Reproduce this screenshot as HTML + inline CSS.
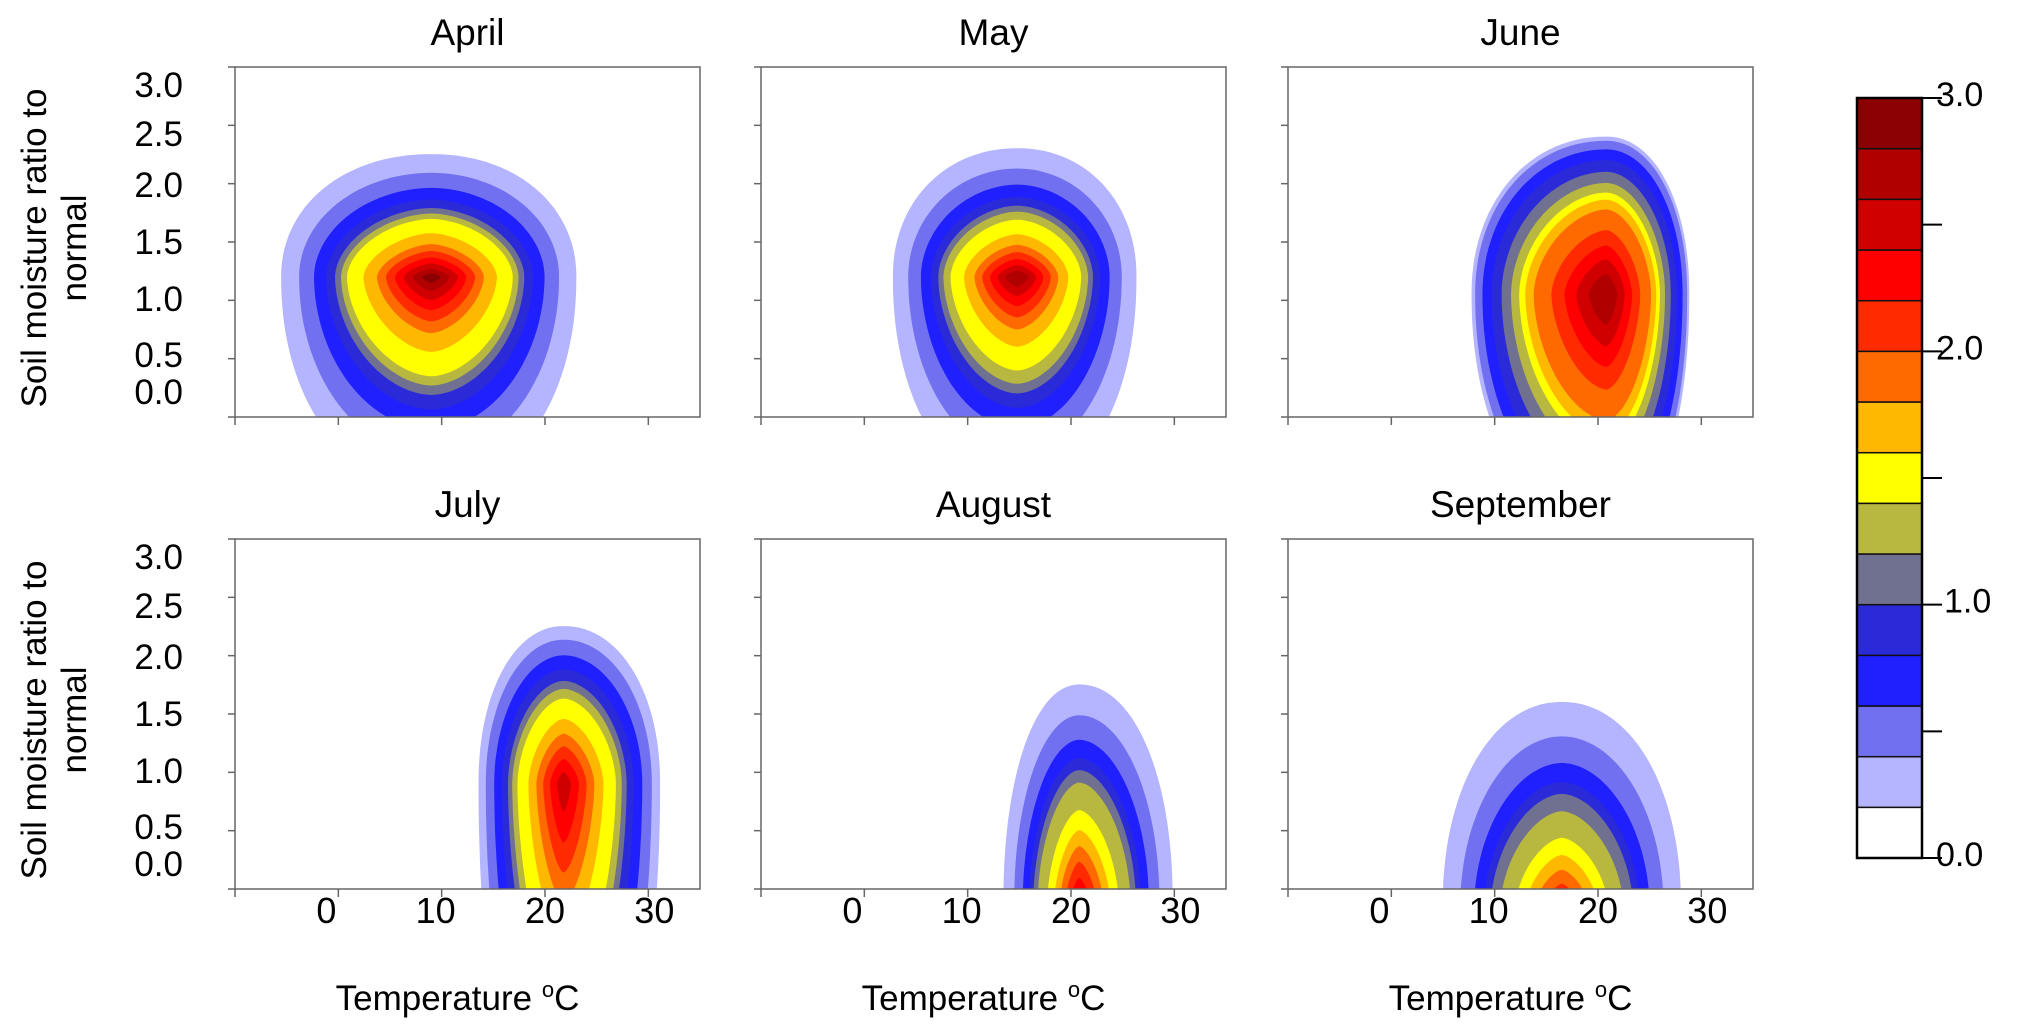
<!DOCTYPE html>
<html><head><meta charset="utf-8">
<style>
html,body{margin:0;padding:0;background:#fff;overflow:hidden;width:2033px;height:1036px;}
svg{display:block;font-family:"Liberation Sans",Arial,sans-serif;}
</style></head>
<body>
<svg id="chart" width="2033" height="1036" viewBox="0 0 2033 1036" xmlns="http://www.w3.org/2000/svg"></svg>
<script>
// ---- data ----
const months = ["April","May","June","July","August","September"];
const peakValue = [2.9, 2.8, 2.8, 2.5, 2.4, 2.3];
const centerTemp = [9, 14.8, 20.8, 21.8, 20.8, 16.5];
const centerMoisture = [1.2, 1.2, 1.05, 0.9, -0.1, -0.15];
const extentLeft = [14.5, 12, 13, 8.2, 7.3, 11.5];
const extentRight = [14, 11.5, 8, 9.3, 9, 11.5];
const extentUp = [1.05, 1.1, 1.35, 1.35, 1.85, 1.75];
const extentDown = [1.8, 1.8, 2.0, 3.2, 1.0, 1.0];
const verticalPow = [1.3, 1.3, 1.0, 1.0, 1.0, 1.15];
const coreGamma = [1.0, 1.0, 1.6, 1.2, 1.0, 1.0];
// normalized contour radius vs level/peak (shared profile)
const profileLevel = [0.0, 0.069, 0.138, 0.207, 0.276, 0.345, 0.414, 0.483, 0.552, 0.621, 0.69, 0.758, 0.828, 0.897, 0.966, 1.0];
const profileRadius = [1.1, 1.0, 0.88, 0.78, 0.70, 0.64, 0.60, 0.56, 0.45, 0.36, 0.30, 0.24, 0.18, 0.12, 0.06, 0.0];
const xTickValues = [-10, 0, 10, 20, 30];
const xTickLabels = ["", "0", "10", "20", "30"];
const yTickValues = [0, 0.5, 1, 1.5, 2, 2.5, 3];
const yTickLabels = ["0.0","0.5","1.0","1.5","2.0","2.5","3.0"];
const levels = [0.2,0.4,0.6,0.8,1.0,1.2,1.4,1.6,1.8,2.0,2.2,2.4,2.6,2.8];
const bandColors = ["#ffffff","#b4b4ff","#7070f0","#2020ff","#2a2ad8","#707090","#b8b840","#ffff00","#ffb800","#ff6a00","#ff2a00","#ff0000","#d00000","#b00000","#8b0000"];
const cbTickValues = [0,0.5,1,1.5,2,2.5,3];
const cbLabels = ["0.0","","1.0","","2.0","","3.0"];

// ---- layout ----
const NS="http://www.w3.org/2000/svg";
const svg=document.getElementById('chart');
function mk(tag,attrs,parent){const e=document.createElementNS(NS,tag);for(const k in attrs)e.setAttribute(k,attrs[k]);(parent||svg).appendChild(e);return e;}
const colX=[235,761,1288], rowY=[67,539], PW=465, PH=350;
const xMin=-10,xMax=35,yMin=0,yMax=3;
const yLabOff=[337,300,244,187,130,79,30];
function radiusFor(u){
  for(let k=1;k<profileLevel.length;k++){
    if(u<=profileLevel[k]){const t=(u-profileLevel[k-1])/(profileLevel[k]-profileLevel[k-1]);return profileRadius[k-1]+t*(profileRadius[k]-profileRadius[k-1]);}
  }
  return 0;
}

const defs=mk('defs',{});
months.forEach((m,i)=>{
  const px=colX[i%3], py=rowY[Math.floor(i/3)];
  const xs=v=>px+(v-xMin)/(xMax-xMin)*PW;
  const ys=v=>py+PH-(v-yMin)/(yMax-yMin)*PH;
  const g=mk('g',{});
  
  
  const cp=mk('clipPath',{id:'clip'+i},defs);
  mk('rect',{x:px,y:py,width:PW,height:PH},cp);
  const cg=mk('g',{'clip-path':'url(#clip'+i+')'},g);
  const pk=peakValue[i];
  levels.forEach((L,li)=>{
    if(pk<=L) return;
    const tt=(L-0.2)/(pk-0.2);
    const u=0.069+Math.pow(tt,coreGamma[i])*(1-0.069);
    const R=radiusFor(u);
    const RV=Math.pow(R,verticalPow[i]);
    const q=1.35+0.75*Math.min(1,R);
    const pts=[];
    for(let a=0;a<360;a+=3){
      const t=a*Math.PI/180,c=Math.cos(t),s=Math.sin(t);
      const dx=Math.sign(c)*Math.pow(Math.abs(c),2/q)*R*(c>=0?extentRight[i]:extentLeft[i]);
      const dy=Math.sign(s)*Math.pow(Math.abs(s),2/q)*RV*(s>=0?extentUp[i]:extentDown[i]);
      pts.push(xs(centerTemp[i]+dx).toFixed(1)+','+ys(centerMoisture[i]+dy).toFixed(1));
    }
    const poly=mk('polygon',{points:pts.join(' '),fill:bandColors[li+1],stroke:bandColors[li+1],'stroke-width':0.8},cg);
    
    
  });
  const fr=mk('rect',{x:px,y:py,width:PW,height:PH,fill:'none',stroke:'#666','stroke-width':1.5},g);
  
  
  const t=mk('text',{x:px+PW/2,y:py-22,'text-anchor':'middle','font-size':37},g);
  t.textContent=m;
  
  
  yTickValues.forEach((v,k)=>{
    mk('line',{x1:px-7,x2:px,y1:ys(v),y2:ys(v),stroke:'#666','stroke-width':1.5},g);
    if(i%3===0){
      const tl=mk('text',{x:px-52,y:py+yLabOff[k],'text-anchor':'end','font-size':35},g);
      tl.textContent=yTickLabels[k];
      
      
    }
  });
  xTickValues.forEach((v,k)=>{
    mk('line',{x1:xs(v),x2:xs(v),y1:py+PH,y2:py+PH+8,stroke:'#666','stroke-width':1.5},g);
    if(i>=3){
      const tl=mk('text',{x:xs(v)+(v-20)*0.6,y:py+PH+34,'text-anchor':'middle','font-size':36},g);
      tl.textContent=xTickLabels[k];
      
      
    }
  });
  if(i>=3){
    const xt=mk('text',{x:px+PW/2-10,y:1010,'text-anchor':'middle','font-size':35},g);
    xt.innerHTML='Temperature <tspan font-size="22" dy="-13">o</tspan><tspan dy="13">C</tspan>';
    
    
  }
  if(i%3===0){
    const cy=py+PH/2+6;
    const yt=mk('text',{transform:'translate(46,'+cy+') rotate(-90)','text-anchor':'middle','font-size':35},g);
    yt.innerHTML='<tspan x="0" dy="0">Soil moisture ratio to</tspan><tspan x="0" dy="40">normal</tspan>';
    
    
  }
});

// colorbar
const cbX=1857,cbW=65,cbTop=98,cbBot=858;
const cbs=v=>cbBot-(v/3)*(cbBot-cbTop);
const cb=mk('g',{});


bandColors.forEach((c,k)=>{
  const r=mk('rect',{x:cbX,y:cbs((k+1)*0.2),width:cbW,height:cbs(k*0.2)-cbs((k+1)*0.2),fill:c,stroke:'#111','stroke-width':1.5},cb);
  
  
});
mk('rect',{x:cbX,y:cbTop,width:cbW,height:cbBot-cbTop,fill:'none',stroke:'#000','stroke-width':2.5},cb);
cbTickValues.forEach((v,k)=>{
  mk('line',{x1:cbX+cbW,x2:cbX+cbW+20,y1:cbs(v),y2:cbs(v),stroke:'#000','stroke-width':2},cb);
  if(cbLabels[k]){
    const tl=mk('text',{x:cbX+cbW+(v===1?22:14),y:cbs(v)+8,'font-size':34},cb);
    tl.textContent=cbLabels[k];
    
    
  }
});
</script>
</body></html>
